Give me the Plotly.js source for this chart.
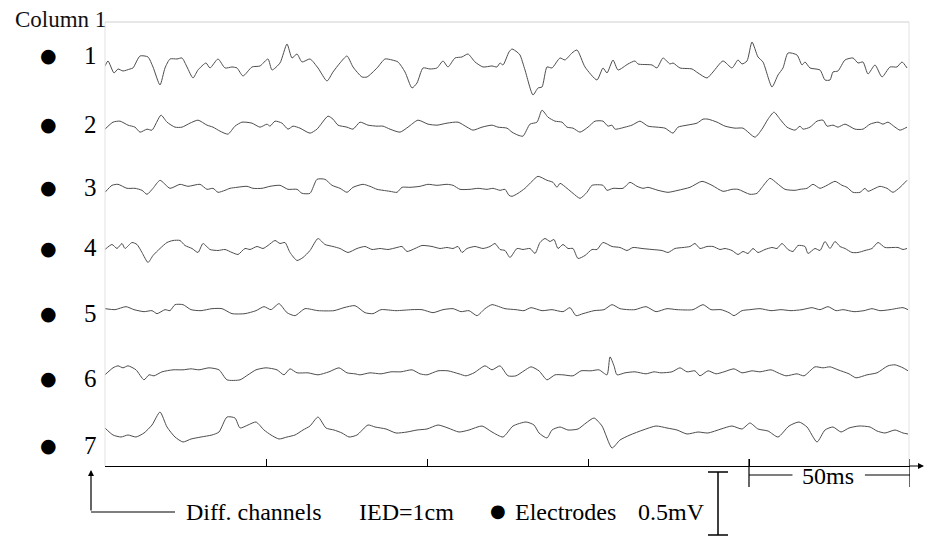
<!DOCTYPE html>
<html>
<head>
<meta charset="utf-8">
<script src="https://cdn.plot.ly/plotly-3.0.1.min.js"></script>
<style>html,body{margin:0;padding:0;background:#fff;}#chart{width:926px;height:536px;}</style>
</head>
<body>
<div id="chart"></div>
<script>
// ---- data: sample index (fs = 3220 Hz) and amplitude in ADC counts (0.5 mV = 63 counts) ----
const channelLabels = ["1","2","3","4","5","6","7"];

const ch1_n = [0,3,9,13,18,25,28,35,43,48,55,60,65,72,77,82,88,93,101,105,113,120,127,132,138,147,155,163,167,175,182,187,192,197,205,213,222,228,235,242,248,257,262,272,280,287,293,300,307,312,318,325,332,338,343,350,357,363,370,378,387,392,395,398,404,407,412,415,420,428,433,437,442,447,455,460,467,472,480,492,498,502,508,513,523,530,533,547,552,558,565,568,575,587,593,602,608,618,627,633,637,642,647,653,658,667,673,678,683,692,697,700,705,715,720,725,728,733,740,748,753,758,763,770,777,785,792,797,802];
const ch1_v = [-1,4,-8,-4,-6,-4,-3,9,8,-2,-20,-3,6,6,7,-2,-13,-5,2,-3,6,-3,-2,-3,-11,-2,-1,6,-5,2,21,7,11,3,6,-3,-16,-7,2,9,-2,-12,-12,-3,6,5,3,-7,-23,-18,-3,-4,-3,4,-2,7,8,11,3,-2,-1,-2,2,0,13,16,13,10,-5,-30,-23,-22,-2,-3,7,5,12,15,-2,-15,-3,-8,5,-5,1,4,1,0,-3,7,1,2,-3,-4,-8,-13,-7,4,-3,5,1,4,23,8,3,-22,-10,-3,12,10,0,3,-3,-5,-15,-15,-7,-6,5,7,2,3,-9,0,-12,-2,-2,3,-3];

const ch2_n = [0,8,15,23,30,35,42,47,56,62,70,77,85,93,102,108,115,123,130,137,147,155,162,165,170,177,183,188,195,205,212,223,228,233,242,248,255,263,272,278,285,295,303,313,323,332,342,353,362,368,377,387,393,402,407,413,418,425,432,437,443,450,457,462,468,475,483,490,498,503,507,510,520,527,535,543,552,560,568,573,582,592,598,603,612,620,630,638,650,657,663,669,675,682,690,695,698,705,712,718,722,728,733,740,750,758,765,773,778,783,790,795,802];
const ch2_v = [-3,4,5,1,-1,-6,-3,-4,11,4,-1,-1,3,6,1,-1,-5,-8,0,4,3,-1,2,0,5,3,-3,0,-2,-7,-3,10,7,1,-1,-3,4,1,0,0,-3,-6,-1,6,2,1,3,4,-1,-4,-1,1,-1,-2,-6,-9,-10,2,4,16,9,5,4,-1,-2,-6,-1,5,5,0,1,-3,-1,1,5,0,-1,-2,-7,-1,1,3,7,7,4,0,-2,-2,-11,-3,7,14,7,-1,-4,0,-3,-1,5,6,0,1,-1,2,-3,-3,2,4,2,4,-1,-4,-1];

const ch3_n = [0,7,13,22,30,37,42,48,55,65,75,83,95,102,108,113,120,125,132,142,148,157,165,175,183,192,197,205,212,220,227,235,242,248,258,265,272,278,285,292,297,305,315,323,332,342,348,355,365,373,382,388,395,400,404,407,413,420,427,433,442,448,452,455,462,468,475,482,487,498,502,508,518,525,532,538,543,553,563,573,585,597,607,618,627,633,645,652,657,665,672,680,690,695,702,708,715,722,730,737,742,748,755,760,763,770,775,782,788,795,802];
const ch3_v = [-5,2,3,-1,-1,-3,-7,-1,7,-1,3,1,3,-2,-1,-5,-3,-1,0,1,-1,-1,1,2,-2,-2,-6,-6,8,8,2,-1,-5,0,3,1,-2,-3,-4,-5,0,0,1,3,2,3,2,-2,-2,-1,-2,-1,-3,-2,-8,-9,-6,-1,6,11,7,5,0,4,-1,-6,-11,-5,2,2,-3,-1,-1,5,1,-1,0,-3,-5,-3,0,6,2,-4,-2,-2,-7,-6,0,9,4,-2,-3,-2,-1,3,-1,2,6,2,0,-5,-5,-1,-4,-1,1,-1,-5,0,7];

const ch4_n = [0,7,12,17,20,27,32,37,43,48,55,62,68,75,80,87,93,98,105,113,120,127,133,140,145,152,158,163,170,175,180,185,192,198,205,213,220,228,235,243,252,260,267,275,283,292,297,302,310,317,327,335,342,348,353,357,362,370,378,385,390,395,400,405,412,418,425,430,435,440,445,449,453,458,463,468,473,480,487,492,498,507,515,522,528,537,547,557,563,570,578,585,590,595,602,608,615,620,627,633,638,643,648,653,660,667,672,677,683,688,693,700,703,710,715,720,725,730,735,740,747,753,760,767,773,780,788,793,798,802];
const ch4_v = [-1,4,0,5,0,6,4,-4,-14,-7,0,6,8,8,3,0,-4,5,-1,-2,-1,-4,-6,0,-1,2,0,3,8,5,6,-4,-12,-9,-2,10,4,2,0,-4,0,2,-1,0,-1,1,2,-3,0,3,2,0,1,0,2,-4,0,2,0,2,5,-1,-2,-9,0,-1,0,-5,6,10,7,9,0,4,0,0,-10,-7,-1,-1,6,2,1,-2,1,0,-1,-2,-4,0,1,2,5,0,2,2,-1,0,-2,-6,-3,-5,0,-4,-1,1,0,5,-1,-3,3,2,-5,0,-2,7,0,7,2,0,-4,-4,-2,0,6,1,1,1,-1,0];

const ch5_n = [0,10,21,29,39,47,52,60,65,70,78,86,96,107,117,127,140,151,159,166,174,182,190,200,213,229,239,250,260,268,276,291,307,317,328,338,348,356,364,372,380,387,400,411,419,426,437,447,458,465,471,478,489,499,507,515,523,530,541,551,562,572,588,598,606,616,624,629,637,645,655,666,676,686,697,707,715,723,731,738,749,759,767,775,785,798,803];
const ch5_v = [1,0,3,0,-2,-1,-4,0,-1,5,5,0,-1,1,1,-4,-4,-1,3,0,6,-3,-6,1,-1,-1,2,4,-3,-4,0,-1,0,0,-3,0,1,-2,-1,-6,1,5,1,0,-1,2,-1,0,-2,2,-6,-4,-1,0,5,1,0,0,3,-2,1,0,0,5,0,0,-3,-6,-1,0,1,-1,0,-1,0,2,0,3,-1,0,-2,-1,1,-1,0,2,0];

const ch6_n = [0,8,13,18,23,31,39,44,49,57,68,78,86,94,104,114,122,135,143,151,161,172,179,185,192,203,213,224,234,242,250,255,265,276,286,296,307,315,322,333,343,354,361,369,380,387,395,403,411,419,426,434,442,450,458,468,476,486,494,502,505,509,512,520,530,541,549,556,567,575,582,590,595,603,611,619,629,637,647,655,666,673,681,692,699,710,718,725,733,744,751,762,772,783,790,798,803];
const ch6_v = [-4,3,5,3,5,1,-9,-4,-5,-1,1,1,2,1,3,1,-9,-9,-4,1,3,1,-4,2,-2,-2,-4,-1,3,-2,-3,-4,-2,-3,-1,-1,1,-3,-4,0,0,-3,-5,-2,5,1,5,-5,-5,0,4,0,-9,-4,-4,-5,0,0,1,-4,14,5,-4,-2,-1,-3,-1,-2,-1,3,-1,0,-5,0,-3,-1,2,-2,0,-1,1,-2,-5,-3,-5,4,3,4,1,-3,-7,-4,-2,5,6,3,0];

const ch7_n = [0,8,16,23,31,39,47,55,62,70,78,86,96,107,114,122,130,135,143,151,159,166,174,182,190,198,205,213,221,229,237,244,252,263,270,281,291,302,312,322,333,343,354,364,377,387,398,408,421,429,434,442,447,455,463,473,481,489,497,507,515,525,538,551,562,572,582,593,603,616,627,637,645,653,663,673,684,694,702,712,720,728,736,744,754,765,772,780,790,798,803];
const ch7_v = [4,-3,-5,-3,-5,-1,7,20,5,-5,-10,-7,-5,-3,0,15,14,4,7,10,2,-3,-7,-5,-3,2,6,15,4,2,-1,-5,-3,7,5,3,-1,0,2,3,7,4,0,2,6,0,-5,6,10,7,-1,-6,2,5,2,3,9,14,6,-16,-8,-3,2,6,4,2,-2,0,-1,3,6,3,9,3,1,-5,6,10,5,-10,2,5,0,4,6,5,1,-1,2,-1,-2];

// ---- scales / styling ----
const FS_KHZ = 3.22;          // samples per ms
const MV_PER_COUNT = 0.5 / 63;
const T_MAX = 250;            // ms shown
const BASE_MV = 34 * MV_PER_COUNT;
const SPACING_MV = 61.17 * MV_PER_COUNT;
const Y_MAX = 446 * MV_PER_COUNT;

const series = [[ch1_n,ch1_v],[ch2_n,ch2_v],[ch3_n,ch3_v],[ch4_n,ch4_v],[ch5_n,ch5_v],[ch6_n,ch6_v],[ch7_n,ch7_v]];

const traces = series.map(([n, v], i) => {
  const off = BASE_MV + (6 - i) * SPACING_MV;
  return {
    x: n.map(s => s / FS_KHZ),
    y: v.map(c => off + c * MV_PER_COUNT),
    type: 'scatter', mode: 'lines',
    line: {color: '#4d4d4d', width: 1, shape: 'spline', smoothing: 0.6},
    hoverinfo: 'skip', showlegend: false
  };
});

// pixel helpers for decorations (plot area: x 105..910, y 20..466)
const L = 105, R = 910, T = 20, B = 466;
const px = p => (p - L) / (R - L);
const py = p => (B - p) / (B - T);

const serif = 'Liberation Serif';
const ann = [];
const shapes = [];

ann.push({xref:'paper', yref:'paper', x: px(60), y: py(19), text:'Column 1', showarrow:false,
  font:{family:serif, size:23, color:'#111'}, xanchor:'center', yanchor:'middle'});

const labelY = [55,124,187,248,313,378,445];
channelLabels.forEach((lab, i) => {
  ann.push({xref:'paper', yref:'paper', x: px(48), y: py(labelY[i]), text:'●', showarrow:false,
    font:{family:'DejaVu Sans', size:19, color:'#000'}, xanchor:'center', yanchor:'middle'});
  ann.push({xref:'paper', yref:'paper', x: px(90), y: py(labelY[i]), text: lab, showarrow:false,
    font:{family:serif, size:25, color:'#000'}, xanchor:'center', yanchor:'middle'});
});

// frame (light)
shapes.push({type:'line', xref:'paper', yref:'paper', x0:px(105), x1:px(105), y0:py(22), y1:py(466), line:{color:'#e2e2e2', width:1}});
shapes.push({type:'line', xref:'paper', yref:'paper', x0:px(909), x1:px(909), y0:py(22), y1:py(466), line:{color:'#e2e2e2', width:1}});
shapes.push({type:'line', xref:'paper', yref:'paper', x0:px(105), x1:px(909), y0:py(22), y1:py(22), line:{color:'#d0d0d0', width:1}});

// axis arrow extension
ann.push({xref:'paper', yref:'paper', x: px(924), y: py(466), ax: -16, ay: 0, text:'', showarrow:true,
  arrowhead:2, arrowsize:1, arrowwidth:1.2, arrowcolor:'#000'});

// 50 ms marker
[200, 250].forEach(t => shapes.push({type:'line', xref:'x', yref:'paper', x0:t, x1:t, y0:py(459), y1:py(487), line:{color:'#000', width:1.2}}));
shapes.push({type:'line', xref:'x', yref:'paper', x0:200, x1:213.5, y0:py(475), y1:py(475), line:{color:'#000', width:1.2}});
shapes.push({type:'line', xref:'x', yref:'paper', x0:236, x1:250, y0:py(475), y1:py(475), line:{color:'#000', width:1.2}});
ann.push({xref:'x', yref:'paper', x: 224.5, y: py(476), text:'50ms', showarrow:false,
  font:{family:serif, size:24, color:'#000'}, xanchor:'center', yanchor:'middle'});

// 0.5 mV scale bar
shapes.push({type:'line', xref:'paper', yref:'paper', x0:px(718), x1:px(718), y0:py(472), y1:py(472 + 0.5 / MV_PER_COUNT), line:{color:'#000', width:1.5}});
shapes.push({type:'line', xref:'paper', yref:'paper', x0:px(708), x1:px(728), y0:py(472), y1:py(472), line:{color:'#000', width:1.5}});
shapes.push({type:'line', xref:'paper', yref:'paper', x0:px(708), x1:px(728), y0:py(535), y1:py(535), line:{color:'#000', width:1.5}});

// Diff. channels pointer
shapes.push({type:'line', xref:'paper', yref:'paper', x0:px(91), x1:px(175), y0:py(512), y1:py(512), line:{color:'#000', width:1.2}});
ann.push({xref:'paper', yref:'paper', x: px(91), y: py(470), ax: 0, ay: 42, text:'', showarrow:true,
  arrowhead:2, arrowsize:1, arrowwidth:1.2, arrowcolor:'#000'});

const bottom = [[254,'Diff. channels'],[406,'IED=1cm'],[565,'Electrodes'],[671,'0.5mV']];
bottom.forEach(([x, t]) => ann.push({xref:'paper', yref:'paper', x: px(x), y: py(512), text: t, showarrow:false,
  font:{family:serif, size:24, color:'#000'}, xanchor:'center', yanchor:'middle'}));
ann.push({xref:'paper', yref:'paper', x: px(498), y: py(510), text:'●', showarrow:false,
  font:{family:'DejaVu Sans', size:18, color:'#000'}, xanchor:'center', yanchor:'middle'});

const layout = {
  width: 926, height: 536,
  margin: {l: L, r: 926 - R, t: T, b: 536 - B},
  paper_bgcolor: '#fff', plot_bgcolor: '#fff',
  showlegend: false,
  xaxis: {range: [0, T_MAX], showline: true, linecolor: '#000', linewidth: 1.2,
    ticks: 'inside', tickvals: [50, 100, 150, 200], ticklen: 7, tickcolor: '#000', tickwidth: 1,
    showticklabels: false, showgrid: false, zeroline: false, fixedrange: true},
  yaxis: {range: [0, Y_MAX], showline: false, showticklabels: false, ticks: '',
    showgrid: false, zeroline: false, fixedrange: true},
  annotations: ann,
  shapes: shapes
};

Plotly.newPlot('chart', traces, layout, {displayModeBar: false, staticPlot: true});
</script>
</body>
</html>
